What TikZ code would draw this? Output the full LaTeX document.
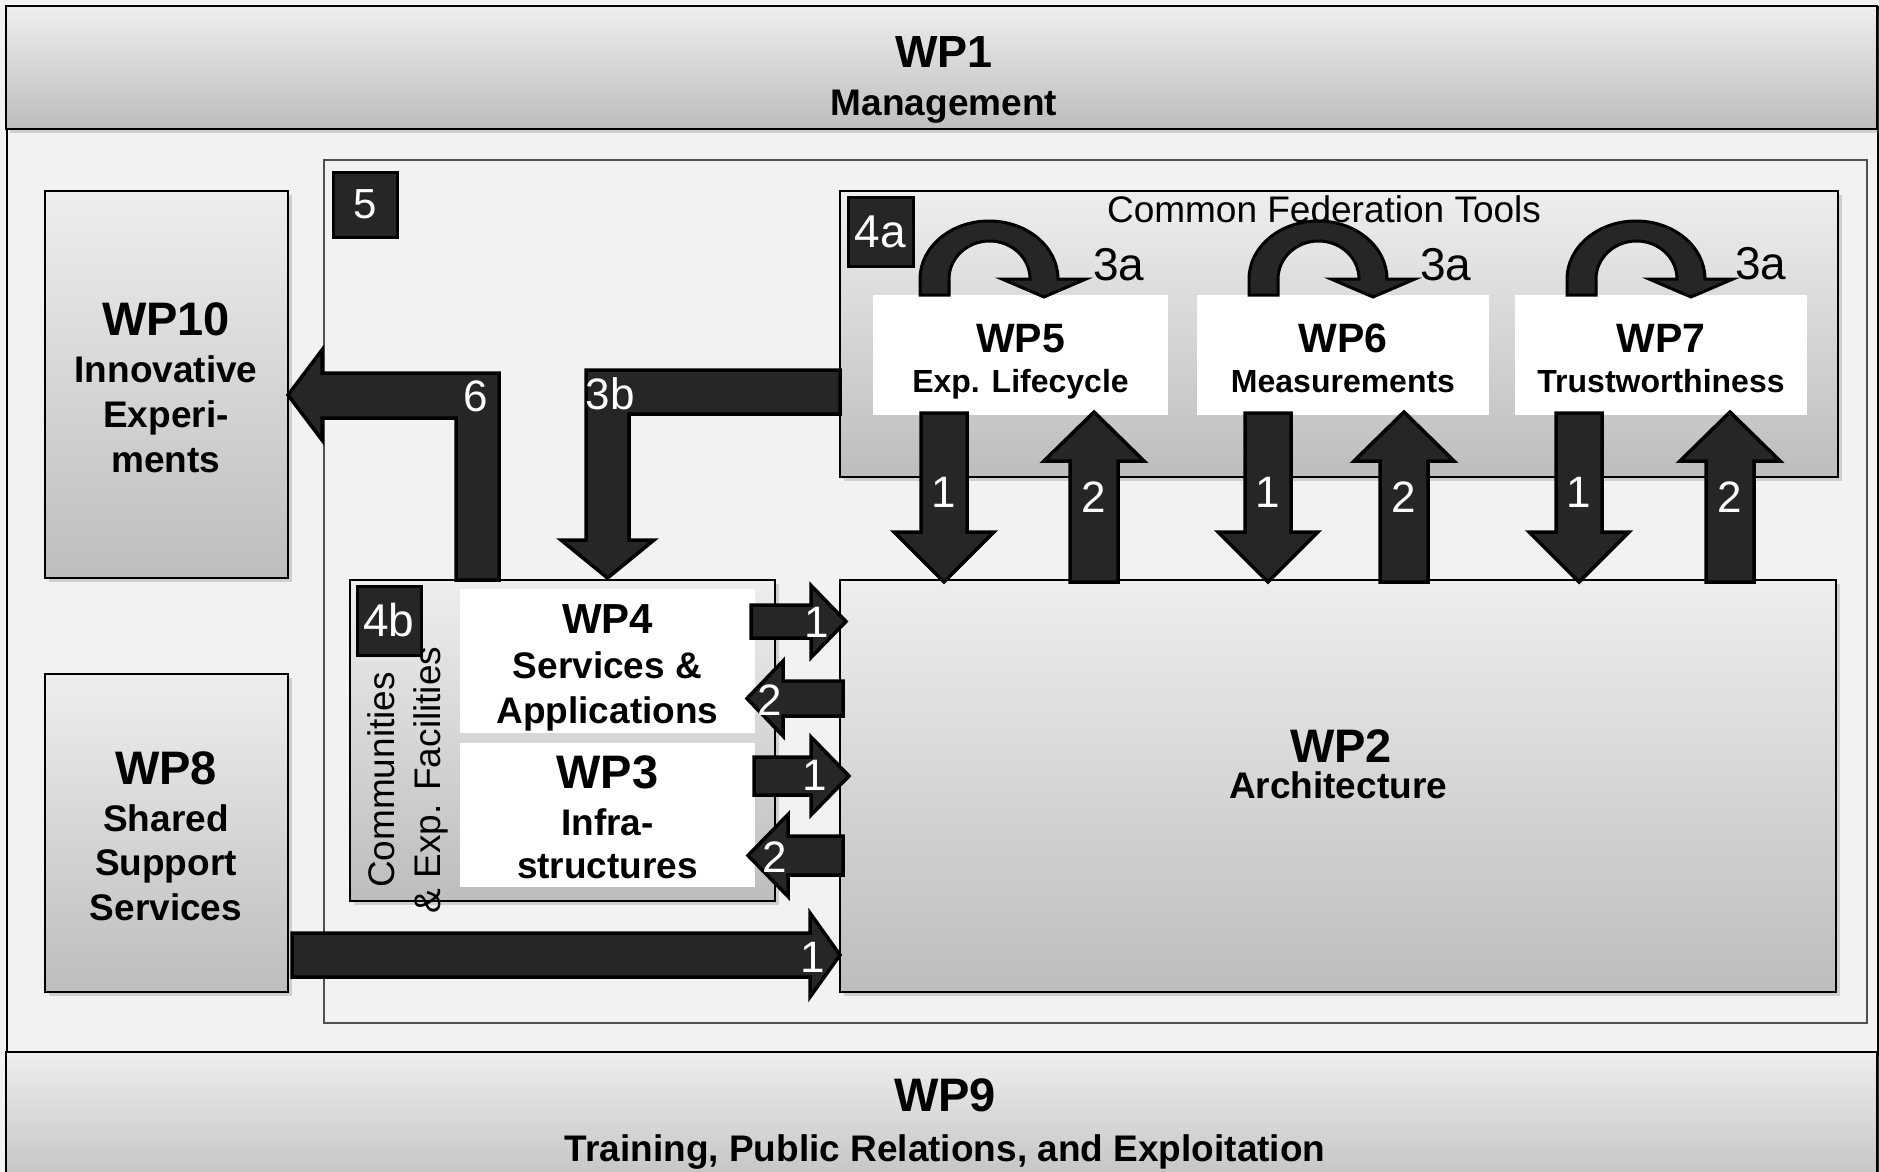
\documentclass[tikz,border=0pt]{standalone}
\usepackage{fontspec}
\setmainfont{Liberation Sans}
\usetikzlibrary{calc,shadows}
\definecolor{paper}{HTML}{F2F2F2}
\definecolor{ink}{HTML}{262626}
\definecolor{gtop}{HTML}{EEEEEE}
\definecolor{gbot}{HTML}{BDBDBD}
\definecolor{framegray}{HTML}{505050}
% block arrow: #1 start, #2 tip, #3 shaft half width, #4 head half width, #5 head length
\newcommand{\bkarrow}[5]{%
  \coordinate (hb) at ($(#2)!#5!(#1)$);
  \draw[blk] ($(#1)!#3!90:(#2)$) -- ($(hb)!#3!90:(#2)$) -- ($(hb)!#4!90:(#2)$) -- (#2)
    -- ($(hb)!#4!-90:(#2)$) -- ($(hb)!#3!-90:(#2)$) -- ($(#1)!#3!-90:(#2)$) -- cycle;}
% curved self arrow on top of a white box: #1 node, #2 x offset of the left leg
\newcommand{\turnarrow}[2]{%
  \draw[blk, line width=3pt] ([xshift=#2pt]#1.north west) -- ++(0,-16)
    arc[start angle=180,end angle=0,x radius=69pt,y radius=58pt]
    -- ++(28,0) -- ++(-42,18) -- ++(-42,-18) -- ++(28,0)
    arc[start angle=0,end angle=180,x radius=40.5pt,y radius=38pt]
    -- ++(0,16) -- cycle;}
\begin{document}
\begin{tikzpicture}[x=1pt,y=-1pt,
  gbox/.style={draw=black, line width=2pt, top color=gtop, bottom color=gbot,
    inner sep=0pt, outer sep=0pt, anchor=north west,
    drop shadow={shadow xshift=4pt, shadow yshift=-4pt, opacity=0.3}},
  wbox/.style={fill=white, draw=none, inner sep=0pt, outer sep=0pt, anchor=north west},
  tagbox/.style={fill=ink, draw=black, line width=3pt, text=white, inner sep=0pt,
    font=\fontsize{46}{46}\selectfont},
  blk/.style={fill=ink, draw=black, line width=3.5pt, line join=miter},
  num/.style={text=white, inner sep=0pt, font=\fontsize{44}{44}\selectfont},
  ttl/.style={anchor=base, inner sep=0pt, font=\bfseries\fontsize{47}{47}\selectfont},
  ttls/.style={anchor=base, inner sep=0pt, font=\bfseries\fontsize{41}{41}\selectfont},
  sub/.style={anchor=base, inner sep=0pt, font=\bfseries\fontsize{37}{37}\selectfont},
  subs/.style={anchor=base, inner sep=0pt, font=\bfseries\fontsize{32}{32}\selectfont},
  plain/.style={inner sep=0pt, font=\fontsize{37}{37}\selectfont},
  three/.style={anchor=base west, inner sep=0pt, font=\fontsize{46}{46}\selectfont}]
\useasboundingbox (0,0) rectangle (1879,1172);
\fill[paper] (0,0) rectangle (1879,1172);
\node[draw=black, line width=2pt, minimum width=1871pt, minimum height=1200pt,
  anchor=north west, inner sep=0pt] (outer) at (6,6) {};

% bands
\node[gbox, minimum width=1871pt, minimum height=123pt] (wp1) at (6,6) {};
\node[gbox, minimum width=1871pt, minimum height=150pt] (wp9) at (6,1052) {};

% frame 5
\node[draw=framegray, line width=1.6pt, minimum width=1543pt, minimum height=863pt,
  anchor=north west, inner sep=0pt] (f5) at (323,159) {};

% grey boxes
\node[gbox, minimum width=243pt, minimum height=387pt] (wp10) at (45,191) {};
\node[gbox, minimum width=243pt, minimum height=318pt] (wp8) at (45,674) {};
\node[gbox, minimum width=998pt, minimum height=286pt] (cft) at (840,191) {};
\node[gbox, minimum width=996pt, minimum height=412pt] (wp2) at (840,580) {};
\node[gbox, minimum width=425pt, minimum height=321pt] (fac) at (350,580) {};

% white boxes
\node[wbox, minimum width=295pt, minimum height=120pt] (wp5) at (873,295) {};
\node[wbox, minimum width=292pt, minimum height=120pt] (wp6) at (1197,295) {};
\node[wbox, minimum width=292pt, minimum height=120pt] (wp7) at (1515,295) {};
\node[wbox, minimum width=295pt, minimum height=144pt] (wp4) at (460,589) {};
\node[wbox, minimum width=295pt, minimum height=144pt] (wp3) at (460,743) {};

% tags
\node[tagbox, minimum width=64pt, minimum height=65pt, font=\fontsize{42}{42}\selectfont] (t5) at (365,204.5) {5};
\node[tagbox, minimum width=65pt, minimum height=69pt] (t4a) at (880.5,231.5) {4a};
\node[tagbox, minimum width=64pt, minimum height=69pt] (t4b) at (389,620.5) {4b};

% texts
\node[ttl, font=\bfseries\fontsize{45}{45}\selectfont] (x1) at (944,67) {WP1};
\node[sub] (x1s) at (944,115) {Management};
\node[ttl] (x9) at (945,1111) {WP9};
\node[sub] (x9s) at (945,1161) {Training, Public Relations, and Exploitation};

\node[ttl] (x10) at (166,335) {WP10};
\node[sub] (x10a) at (166,382) {Innovative};
\node[sub] (x10b) at (166,427) {Experi-};
\node[sub] (x10c) at (166,472) {ments};

\node[ttl] (x8) at (166,784) {WP8};
\node[sub] (x8a) at (166,831) {Shared};
\node[sub] (x8b) at (166,875) {Support};
\node[sub] (x8c) at (166,920) {Services};

\node[plain, anchor=base] (xcft) at (1324,222) {Common Federation Tools};

\node[ttls] (x5) at (1020.5,352) {WP5};
\node[subs] (x5s) at (1020.5,392) {Exp. Lifecycle};
\node[ttls] (x6) at (1343,352) {WP6};
\node[subs] (x6s) at (1343,392) {Measurements};
\node[ttls] (x7) at (1661,352) {WP7};
\node[subs] (x7s) at (1661,392) {Trustworthiness};

\node[ttls, font=\bfseries\fontsize{42}{42}\selectfont] (x4) at (607.5,633) {WP4};
\node[sub] (x4a) at (607.5,678) {Services \&};
\node[sub] (x4b) at (607.5,723) {Applications};
\node[ttl] (x3) at (607.5,788) {WP3};
\node[sub] (x3a) at (607.5,835) {Infra-};
\node[sub] (x3b) at (607.5,878) {structures};

\node[ttl] (x2) at (1341,762) {WP2};
\node[sub] (x2s) at (1338,798) {Architecture};

\node[rotate=90, align=center, inner sep=0pt, font=\fontsize{37}{46}\selectfont] (xfac) at (408,780)
  {Communities\\\& Exp. Facilities};

% curved 3a arrows
\turnarrow{wp5}{47}
\turnarrow{wp6}{52}
\turnarrow{wp7}{52}
\node[three] (l3a5) at (1093,280) {3a};
\node[three] (l3a6) at (1420,280) {3a};
\node[three] (l3a7) at (1735,279) {3a};

% vertical arrows between tools and WP2
\coordinate (d5a) at ($(wp5.south west)+(71,-2)$);  \coordinate (d5b) at ($(d5a |- wp2.north)+(0,2)$);
\coordinate (u5b) at ($(wp5.south west)+(221,-3)$); \coordinate (u5a) at ($(u5b |- wp2.north)+(0,2)$);
\coordinate (d6a) at ($(wp6.south west)+(71,-2)$);  \coordinate (d6b) at ($(d6a |- wp2.north)+(0,2)$);
\coordinate (u6b) at ($(wp6.south west)+(207,-3)$); \coordinate (u6a) at ($(u6b |- wp2.north)+(0,2)$);
\coordinate (d7a) at ($(wp7.south west)+(64,-2)$);  \coordinate (d7b) at ($(d7a |- wp2.north)+(0,2)$);
\coordinate (u7b) at ($(wp7.south west)+(215,-3)$); \coordinate (u7a) at ($(u7b |- wp2.north)+(0,2)$);
\bkarrow{d5a}{d5b}{23pt}{50pt}{50pt}
\bkarrow{u5a}{u5b}{24pt}{50pt}{49pt}
\bkarrow{d6a}{d6b}{23pt}{50pt}{50pt}
\bkarrow{u6a}{u6b}{24pt}{50pt}{49pt}
\bkarrow{d7a}{d7b}{23pt}{50pt}{50pt}
\bkarrow{u7a}{u7b}{24pt}{50pt}{49pt}
\node[num] (n5d) at (944,492) {1};
\node[num] (n5u) at (1094,497) {2};
\node[num] (n6d) at (1268,492) {1};
\node[num] (n6u) at (1404,497) {2};
\node[num] (n7d) at (1579,492) {1};
\node[num] (n7u) at (1730,497) {2};

% horizontal arrows between WP4/WP3/WP8 and WP2
\coordinate (r4a) at (751,621.5); \coordinate (r4b) at (846,621.5);
\coordinate (l4a) at (843,698.5); \coordinate (l4b) at (747,698.5);
\coordinate (r3a) at (754,776);   \coordinate (r3b) at (849,776);
\coordinate (l3a) at (843,855.5); \coordinate (l3b) at (748,855.5);
\coordinate (r8a) at (292,955);   \coordinate (r8b) at (840,955);
\bkarrow{r4a}{r4b}{16.5pt}{36pt}{35pt}
\bkarrow{l4a}{l4b}{17.5pt}{37.5pt}{36pt}
\bkarrow{r3a}{r3b}{19pt}{39pt}{38pt}
\bkarrow{l3a}{l3b}{19.5pt}{41pt}{40pt}
\bkarrow{r8a}{r8b}{22pt}{42pt}{30pt}
\node[num] (n4r) at (817,622) {1};
\node[num] (n4l) at (770,700) {2};
\node[num] (n3r) at (815,775) {1};
\node[num] (n3l) at (775,857) {2};
\node[num] (n8r) at (813,957) {1};

% arrow 6 (facilities -> WP10) and arrow 3b (tools -> facilities)
\draw[blk] (456,580) -- (456,418) -- (322,418) -- (322,440) -- (288,395) -- (322,350)
  -- (322,373) -- (499,373) -- (499,580) -- cycle;
\draw[blk] (840,370) -- (586,370) -- (586,540) -- (561,540) -- (607.5,578) -- (654,540)
  -- (629,540) -- (629,414) -- (840,414) -- cycle;
\node[num] (n6) at (476,396) {6};
\node[num] (n3b) at (610,394) {3b};
\end{tikzpicture}
\end{document}
